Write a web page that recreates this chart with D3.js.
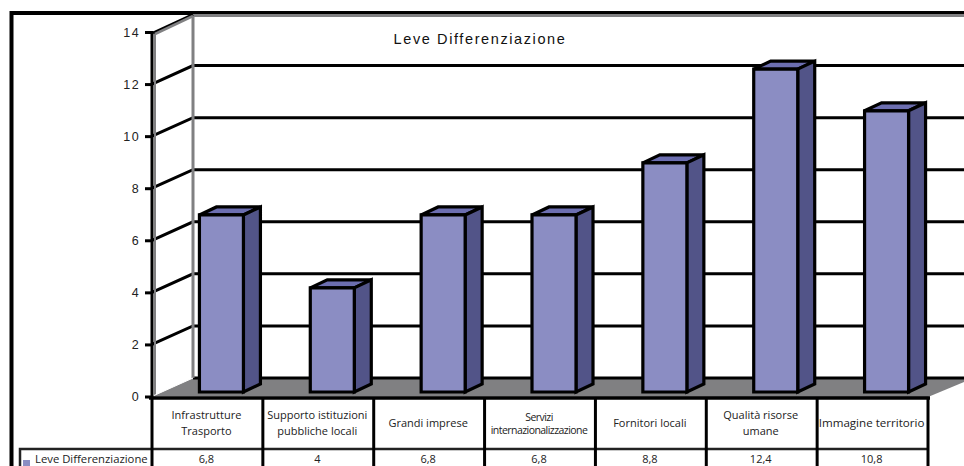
<!DOCTYPE html>
<html><head><meta charset="utf-8">
<script src="https://cdn.jsdelivr.net/npm/d3@7"></script>
<style>html,body{margin:0;padding:0;background:#fff;overflow:hidden}svg{display:block}</style>
</head><body><svg id="c" width="964" height="466"></svg>
<script>
const categories=["Infrastrutture Trasporto","Supporto istituzioni pubbliche locali","Grandi imprese","Servizi internazionalizzazione","Fornitori locali","Qualità risorse umane","Immagine territorio"];
const categoryLines=[["Infrastrutture","Trasporto"],["Supporto istituzioni","pubbliche locali"],["Grandi imprese"],["Servizi","internazionalizzazione"],["Fornitori locali"],["Qualità risorse","umane"],["Immagine territorio"]];
const values=[6.8,4,6.8,6.8,8.8,12.4,10.8];
const valueLabels=["6,8","4","6,8","6,8","8,8","12,4","10,8"];
const yTicks=[0,2,4,6,8,10,12,14];
const seriesName="Leve Differenziazione";

const svg=d3.select("#c");
const L=152,R=928,Y0=396.5,Y14=32,DX=41,DY=-18.5;
const y=d3.scaleLinear().domain([0,14]).range([Y0,Y14]);
const x=d3.scaleBand().domain(categories).range([L,R]);
const black="#000",gray="#808082";
const sans="'Liberation Sans',Arial,sans-serif",body="'Open Sans',sans-serif";

// outer frame
svg.append("path").attr("d","M11.5,466V13H964").attr("fill","none").attr("stroke",black).attr("stroke-width",4);
// back wall top
svg.append("line").attr("x1",L+DX).attr("x2",964).attr("y1",15.5).attr("y2",15.5).attr("stroke",gray).attr("stroke-width",3);
// gridlines
yTicks.filter(d=>d>0&&d<14).forEach(d=>{
  svg.append("path").attr("d",`M${L},${y(d)}L${L+DX},${y(d)+DY}H964`).attr("fill","none").attr("stroke",black).attr("stroke-width",3);
});
// floor
svg.append("path").attr("d",`M${L},${Y0}L${L+DX},${Y0+DY}H964V382L${R},397Z`).attr("fill",gray);
svg.append("line").attr("x1",L+DX).attr("x2",964).attr("y1",Y0+DY).attr("y2",Y0+DY).attr("stroke",black).attr("stroke-width",3);
// walls
svg.append("line").attr("x1",L+DX).attr("x2",L+DX).attr("y1",14).attr("y2",Y0+DY).attr("stroke",gray).attr("stroke-width",3);
svg.append("line").attr("x1",L+1).attr("x2",L+DX).attr("y1",Y14+1).attr("y2",14.5).attr("stroke",black).attr("stroke-width",3);
svg.append("line").attr("x1",L+3).attr("x2",L+DX).attr("y1",Y14+2).attr("y2",16).attr("stroke",gray).attr("stroke-width",2.5);
svg.append("line").attr("x1",L+3).attr("x2",L+3).attr("y1",Y14+2).attr("y2",Y0).attr("stroke",gray).attr("stroke-width",2);
svg.append("line").attr("x1",L+2).attr("x2",L+DX).attr("y1",Y0-1).attr("y2",Y0+DY).attr("stroke","#fff").attr("stroke-width",1);
// y axis
const axis=d3.axisLeft(y).tickValues(yTicks).tickSize(7).tickPadding(5);
const ag=svg.append("g").attr("transform",`translate(${L},0)`).call(axis);
ag.select(".domain").remove();
ag.selectAll("line").attr("stroke",black).attr("stroke-width",3);
ag.selectAll("text").attr("font-family",sans).attr("font-size",12.5).attr("letter-spacing",1.4).attr("fill","#222");
svg.append("line").attr("x1",L).attr("x2",L).attr("y1",Y14-1).attr("y2",397).attr("stroke",black).attr("stroke-width",3);
// bars
const BW=44,OFF=14,BD=17,BH=8,BASE=4.5;
const bars=svg.append("g").selectAll("g").data(categories).join("g");
bars.each(function(c,i){
  const g=d3.select(this),x0=x(c)+x.bandwidth()/2+OFF-BW/2,x1=x0+BW,yt=y(values[i])-BASE,yb=Y0-BASE;
  const st={stroke:black,"stroke-width":3.2,"stroke-linejoin":"miter"};
  const add=(d,f)=>{const p=g.append("path").attr("d",d).attr("fill",f);Object.entries(st).forEach(([k,v])=>p.attr(k,v));};
  add(`M${x0},${yt}L${x0+BD},${yt-BH}H${x1+BD}L${x1},${yt}Z`,"#6C6EB0");
  add(`M${x1},${yt}L${x1+BD},${yt-BH}V${yb-BH}L${x1},${yb}Z`,"#525488");
  add(`M${x0},${yt}H${x1}V${yb}H${x0}Z`,"#8B8DC3");
});
// title
svg.append("text").attr("x",480).attr("y",44).attr("text-anchor","middle").attr("font-family",sans).attr("font-size",14.5).attr("letter-spacing",1.6).attr("fill","#111").text(seriesName);
// table
const ROW=449;
svg.append("line").attr("x1",L-3).attr("x2",R+2).attr("y1",398).attr("y2",398).attr("stroke",black).attr("stroke-width",3.5);
svg.append("path").attr("d",`M20,466V${ROW}H${R+1}`).attr("fill","none").attr("stroke","#222").attr("stroke-width",2.5);
const edges=categories.map(c=>x(c)).concat([R]);
edges.forEach(e=>svg.append("line").attr("x1",e).attr("x2",e).attr("y1",397).attr("y2",466).attr("stroke",black).attr("stroke-width",3));
categories.forEach((c,i)=>{
  const cx=x(c)+x.bandwidth()/2-1,ls=categoryLines[i],narrow=ls[ls.length-1].length>20;
  const gap=narrow?13:15.5;
  ls.forEach((s,j)=>svg.append("text").attr("x",cx).attr("y",423+(j-(ls.length-1)/2)*gap+4).attr("text-anchor","middle")
    .attr("font-family",body).attr("font-size",narrow?10.5:s.length>18&&ls.length===1?11.6:11).attr("letter-spacing",narrow?-0.55:0).attr("fill","#222").text(s));
  svg.append("text").attr("x",cx).attr("y",463).attr("text-anchor","middle").attr("font-family",body).attr("font-size",11).attr("fill","#222").text(valueLabels[i]);
});
svg.append("rect").attr("x",23).attr("y",460).attr("width",7).attr("height",6).attr("fill","#8B8DC3");
svg.append("text").attr("x",35).attr("y",463).attr("font-family",body).attr("font-size",11.3).attr("fill","#222").text(seriesName);
</script></body></html>
